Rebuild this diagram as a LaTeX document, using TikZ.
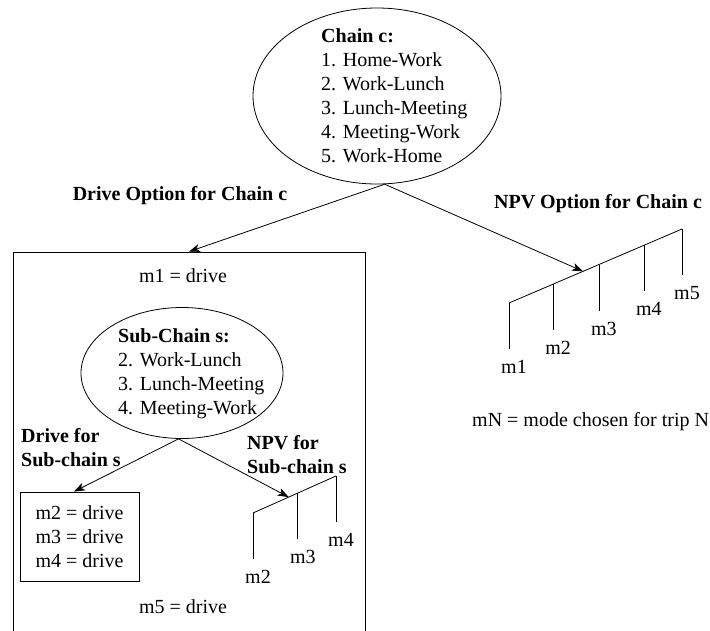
\documentclass[tikz,border=0pt]{standalone}
\usepackage{fontspec}
\setmainfont{Liberation Serif}
\usetikzlibrary{shapes.geometric,arrows.meta,positioning,calc}

\begin{document}
\begin{tikzpicture}[x=1pt, y=-1pt,
    font=\fontsize{20}{24}\selectfont,
    oval/.style={ellipse, draw, line width=0.8pt, inner sep=0pt},
    txt/.style={inner sep=0pt, align=left},
    hdr/.style={inner sep=0pt, align=left, font=\fontsize{20}{24}\selectfont\bfseries},
    frame/.style={rectangle, draw, line width=0.8pt, inner sep=0pt},
    rake/.style={line width=0.8pt},
    ar/.style={line width=0.8pt, -{Stealth[length=11pt, width=8pt, inset=3pt]}}]
    \useasboundingbox (0,0) rectangle (710,630);

    % whole chain
    \node [oval, minimum width=248pt, minimum height=176pt] (chain) at (377,96) {};
    \node [txt, anchor=north west] (chaintxt) at (321,28)
        {\textbf{Chain c:}\\1. Home-Work\\2. Work-Lunch\\3. Lunch-Meeting\\4. Meeting-Work\\5. Work-Home};

    % drive option: one box for the whole chain
    \node [frame, minimum width=352pt, minimum height=400pt] (drivebox) at (189,452) {};
    \node [hdr, anchor=base] (drivelbl) at (180,200) {Drive Option for Chain c};
    \node [txt] (m1drive) at (183,276) {m1 = drive};
    \node [txt] (m5drive) at (183,607) {m5 = drive};

    % sub-chain inside the drive box
    \node [oval, minimum width=202pt, minimum height=131pt] (sub) at (182,373) {};
    \node [txt, anchor=north west] (subtxt) at (118,328)
        {\textbf{Sub-Chain s:}\\2. Work-Lunch\\3. Lunch-Meeting\\4. Meeting-Work};
    \node [hdr, anchor=north west] (subdrivelbl) at (21,428) {Drive for\\Sub-chain s};
    \node [hdr, anchor=north west] (subnpvlbl) at (247,435) {NPV for\\Sub-chain s};
    \node [frame, minimum width=119pt, minimum height=89pt, align=center] (fixbox) at (79.5,536.5)
        {m2 = drive\\m3 = drive\\m4 = drive};

    % npv option: rake with one tine per trip
    \node [hdr, anchor=base] (npvlbl) at (598,208) {NPV Option for Chain c};
    \coordinate (rakeA) at (509,303);
    \coordinate (rakeB) at (682,229);
    \draw [rake] (rakeA) -- (rakeB);
    \foreach \t/\n in {0/1, 0.255/2, 0.52/3, 0.78/4, 1/5} {
        \draw [rake] ($(rakeA)!\t!(rakeB)$) -- ++(0,46) coordinate (tine\n);
        \node [txt] (mc\n) at ($(tine\n)+(5,18)$) {m\n};
    }
    \coordinate (rakeIn) at ($(rakeA)!0.428!(rakeB)$);
    \node [txt, anchor=base west] (legend) at (472,426) {mN = mode chosen for trip N};

    % npv rake for the sub-chain
    \coordinate (subA) at (253,513);
    \coordinate (subB) at (336,476);
    \draw [rake] (subA) -- (subB);
    \foreach \t/\n in {0/2, 0.54/3, 1/4} {
        \draw [rake] ($(subA)!\t!(subB)$) -- ++(0,46) coordinate (stine\n);
        \node [txt] (sc\n) at ($(stine\n)+(5,18)$) {m\n};
    }
    \coordinate (subIn) at ($(subA)!0.43!(subB)$);

    % arrows
    \draw [ar] (chain.-85) -- (drivebox.north);
    \draw [ar] (chain.-85) -- (rakeIn);
    \draw [ar] (sub.-93) -- (fixbox.97);
    \draw [ar] (sub.-93) -- (subIn);
\end{tikzpicture}
\end{document}
